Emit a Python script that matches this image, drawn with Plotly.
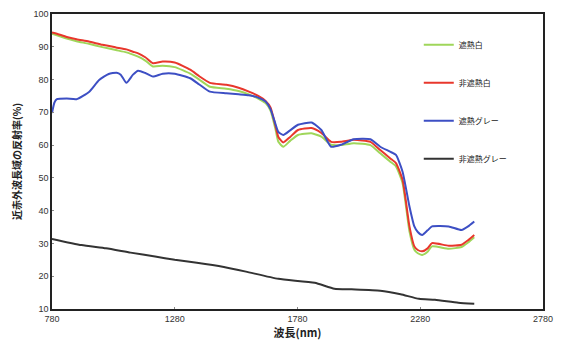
import plotly.graph_objects as go

# --- data ---
wl_white = [780, 800, 840, 880, 930, 985, 1040, 1083, 1110, 1131, 1160, 1191, 1231, 1280, 1343, 1380,
            1423, 1490, 1540, 1582, 1620, 1650, 1670, 1690, 1702, 1722, 1750, 1782, 1837, 1877, 1917,
            1957, 2009, 2077, 2117, 2157, 2181, 2208, 2236, 2256, 2270, 2288, 2310, 2328, 2396, 2448,
            2475, 2500]
shade_white = [94.0, 93.5, 92.5, 91.7, 90.9, 89.9, 89.0, 88.3, 87.6, 87.0, 85.8, 84.0, 84.2, 83.8, 81.8,
               80.0, 77.8, 77.2, 76.5, 75.5, 74.2, 72.8, 70.5, 65.0, 61.0, 59.5, 61.3, 63.1, 63.6, 62.6,
               60.1, 60.0, 60.6, 60.0, 57.5, 55.0, 53.5, 48.4, 33.7, 28.1, 27.0, 26.5, 27.5, 29.1, 28.4,
               28.9, 30.3, 31.9]
plain_white = [94.4, 94.0, 93.0, 92.3, 91.6, 90.6, 89.8, 89.2, 88.5, 88.0, 86.8, 85.0, 85.5, 85.2, 83.0,
               81.0, 79.0, 78.4, 77.5, 76.3, 75.0, 73.5, 71.5, 66.0, 62.5, 60.8, 62.5, 64.6, 65.2, 63.7,
               61.0, 61.0, 61.6, 61.0, 58.5, 56.0, 54.5, 49.4, 35.2, 29.1, 28.0, 27.6, 28.5, 30.1, 29.3,
               29.6, 31.0, 32.6]

wl_gray = [780, 790, 800, 840, 880, 932, 972, 1011, 1043, 1060, 1083, 1110, 1131, 1160, 1191, 1231, 1280,
           1343, 1380, 1423, 1490, 1540, 1582, 1620, 1650, 1670, 1690, 1702, 1722, 1750, 1782, 1837,
           1877, 1917, 1957, 2009, 2077, 2117, 2157, 2181, 2208, 2236, 2256, 2270, 2288, 2310, 2328,
           2396, 2448, 2475, 2500]
shade_gray = [69.8, 73.0, 74.0, 74.2, 74.0, 76.3, 79.9, 81.7, 82.1, 81.5, 79.0, 81.5, 82.7, 82.0, 80.9,
              81.8, 81.8, 80.4, 78.5, 76.3, 75.8, 75.5, 75.2, 74.5, 73.3, 71.0, 66.5, 64.0, 63.1, 64.5,
              66.2, 66.9, 64.6, 59.5, 60.1, 61.8, 61.8, 59.5, 58.0, 57.0, 51.9, 41.3, 35.2, 33.5, 32.6,
              34.0, 35.2, 35.2, 34.1, 35.2, 36.7]

wl_plain_gray = [780, 900, 1000, 1100, 1200, 1280, 1370, 1480, 1570, 1702, 1850, 1930, 2000, 2117,
                 2200, 2275, 2340, 2435, 2500]
plain_gray = [31.4, 29.5, 28.5, 27.2, 26.0, 25.0, 24.1, 22.8, 21.4, 19.2, 18.0, 16.2, 16.0, 15.6,
              14.5, 13.1, 12.8, 11.9, 11.6]

x_ticks = [780, 1280, 1780, 2280, 2780]
y_ticks = [10, 20, 30, 40, 50, 60, 70, 80, 90, 100]

names = ["遮熱白", "非遮熱白", "遮熱グレー", "非遮熱グレー"]
colors = ["#9fd65a", "#e8372c", "#3d4fc4", "#333333"]

fig = go.Figure()
series = [(wl_white, shade_white), (wl_white, plain_white), (wl_gray, shade_gray),
          (wl_plain_gray, plain_gray)]
for (xs, ys), n, c in zip(series, names, colors):
    fig.add_trace(go.Scatter(x=xs, y=ys, mode="lines", name=n,
                             line=dict(color=c, width=2, shape="spline", smoothing=0.5),
                             legendgroup=n))

axis_font = dict(family="Liberation Sans, Arial, sans-serif", size=9, color="#333333")
fig.update_xaxes(range=[780, 2780], tickvals=x_ticks, ticktext=[str(v) for v in x_ticks],
                 showgrid=False, zeroline=False, showline=True, linecolor="#222222", linewidth=1.5,
                 mirror=True, ticks="inside", ticklen=2, tickcolor="#888888", tickfont=axis_font,
                 title=dict(text="<b>波長(nm)</b>", font=dict(family="Noto Sans CJK JP", size=11,
                                                           color="#222222"), standoff=4))
fig.update_yaxes(range=[10, 100], tickvals=y_ticks, showgrid=False, zeroline=False, showline=True,
                 linecolor="#222222", linewidth=1.5, mirror=True, ticks="inside", ticklen=2,
                 tickcolor="#888888", tickfont=axis_font,
                 title=dict(text="<b>近赤外波長域の反射率(%)</b>",
                            font=dict(family="Noto Sans CJK JP", size=10, color="#222222"),
                            standoff=10))

fig.update_layout(
    width=562, height=344,
    margin=dict(l=52, r=9, t=14, b=35),
    paper_bgcolor="white", plot_bgcolor="white",
    showlegend=True,
    legend=dict(x=0.747, y=0.945, xanchor="left", yanchor="top", bgcolor="rgba(0,0,0,0)",
                font=dict(family="Noto Sans CJK JP", size=8, color="#222222"),
                tracegroupgap=19, itemwidth=30),
)

fig.write_html("out.html", config={"displayModeBar": False},
               post_script="document.body.style.margin='0';")
